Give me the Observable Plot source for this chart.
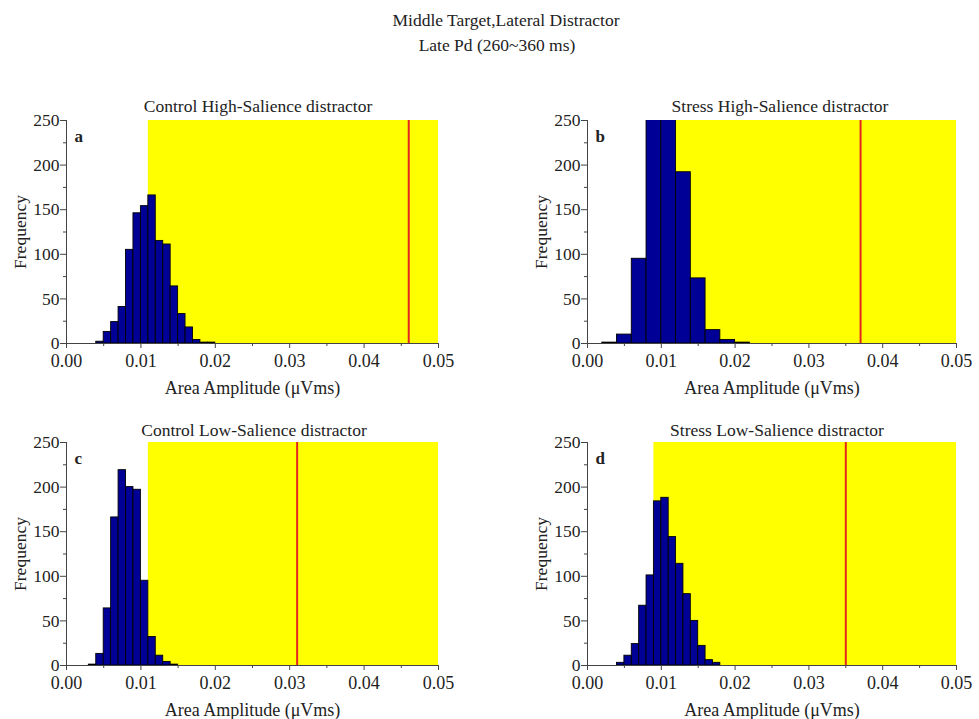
<!DOCTYPE html>
<html><head><meta charset="utf-8">
<script src="https://cdn.jsdelivr.net/npm/d3@7"></script>
<script src="https://cdn.jsdelivr.net/npm/@observablehq/plot@0.6"></script>
<style>
body{margin:0;background:#fff;font-family:"Liberation Serif","Times New Roman",serif;color:#222;}
#root{position:relative;width:979px;height:719px;overflow:hidden;}
.t{position:absolute;transform:translate(-50%,-50%);white-space:nowrap;line-height:1;}
.pos{position:absolute;}
</style></head><body><div id="root"></div>
<script>
// ---- data ----
const mainTitle = "Middle Target,Lateral Distractor";
const subTitle = "Late Pd (260~360 ms)";
const panelTitles = ["Control High-Salience distractor","Stress High-Salience distractor","Control Low-Salience distractor","Stress Low-Salience distractor"];
const panelLetters = ["a","b","c","d"];
const binStarts = [0.004, 0.002, 0.003, 0.004];
const binWidths = [0.001, 0.002, 0.001, 0.001];
const countsA = [2,13,24,41,105,146,154,166,115,111,64,33,18,4,1,1];
const countsB = [1,10,95,285,295,192,73,15,4,1];
const countsC = [1,13,64,166,219,200,197,95,32,11,4,1];
const countsD = [3,11,24,67,101,184,188,144,114,80,50,22,6,3];
const yellowStart = [0.011, 0.012, 0.011, 0.009];
const redLine = [0.046, 0.037, 0.031, 0.035];
const xTicks = [0, 0.01, 0.02, 0.03, 0.04, 0.05];
const xMinorTicks = [0.005, 0.015, 0.025, 0.035, 0.045];
const yTicks = [0, 50, 100, 150, 200, 250];
const yMinorTicks = [25, 75, 125, 175, 225];
const xLabel = "Area Amplitude (μVms)";
const yLabel = "Frequency";
const xMax = 0.05, yMax = 250;
const allCounts = [countsA, countsB, countsC, countsD];

// ---- layout ----
const root = document.getElementById("root");
function addText(txt, cx, cy, size){
  const d = document.createElement("div");
  d.className = "t"; d.textContent = txt;
  d.style.left = cx + "px"; d.style.top = cy + "px"; d.style.fontSize = size + "px";
  root.appendChild(d);
}
addText(mainTitle, 506, 21, 17.5);
addText(subTitle, 497, 46, 17.5);

const pos = [
  {left:0, top:110, width:458, mr:20, tx:258, ty:107},
  {left:521, top:110, width:455, mr:20, tx:780, ty:107},
  {left:0, top:432, width:458, mr:20, tx:254, ty:431},
  {left:521, top:432, width:455, mr:20, tx:777, ty:431}
];

const axisColor = "#444";
allCounts.forEach((counts, k) => {
  const bins = counts.map((c, i) => ({x1: binStarts[k] + i*binWidths[k], x2: binStarts[k] + (i+1)*binWidths[k], y: c}));
  const region = [{x1: yellowStart[k], x2: xMax, y1: 0, y2: yMax}];
  const chart = Plot.plot({
    width: pos[k].width, height: 293,
    marginLeft: 66, marginRight: pos[k].mr, marginTop: 10, marginBottom: 60,
    style: {fontFamily: "'Liberation Serif', 'Times New Roman', serif", fontSize: "17.5px", color: "#222", background: "transparent", overflow: "visible"},
    x: {domain: [0, xMax]},
    y: {domain: [0, yMax]},
    marks: [
      Plot.rect(region, {x1: "x1", x2: "x2", y1: "y1", y2: "y2", fill: "#ffff00"}),
      Plot.rectY(bins, {x1: "x1", x2: "x2", y: "y", fill: "#000096", stroke: "#000", strokeWidth: 0.9, clip: true}),
      Plot.ruleX([redLine[k]], {x: d => d, y1: 0, y2: yMax, stroke: "#e5261c", strokeWidth: 2}),
      Plot.ruleY([0], {stroke: axisColor, strokeWidth: 1}),
      Plot.ruleX([0], {y1: 0, y2: yMax, stroke: axisColor, strokeWidth: 1}),
      Plot.axisX({ticks: xTicks, tickFormat: d3.format(".2f"), tickSize: 5, tickPadding: 6, color: axisColor, fill: "#222", fontSize: 18,
        label: xLabel, labelAnchor: "center", labelArrow: "none", labelOffset: 50}),
      Plot.axisX({ticks: xMinorTicks, tickSize: 3, tickFormat: () => "", color: axisColor, label: null}),
      Plot.axisY({ticks: yTicks, tickSize: 6, tickPadding: 1, color: axisColor, fill: "#222", fontSize: 17.5,
        label: yLabel, labelAnchor: "center", labelArrow: "none", labelOffset: 53}),
      Plot.axisY({ticks: yMinorTicks, tickSize: 3, tickFormat: () => "", color: axisColor, label: null}),
      Plot.text([panelLetters[k]], {text: d => d, frameAnchor: "top-left", dx: 8, dy: 9, fontWeight: "bold", fontSize: 17, fill: "#222"})
    ]
  });
  chart.classList.add("pos");
  chart.style.left = pos[k].left + "px";
  chart.style.top = pos[k].top + "px";
  root.appendChild(chart);
  addText(panelTitles[k], pos[k].tx, pos[k].ty, 17.5);
});
</script></body></html>
